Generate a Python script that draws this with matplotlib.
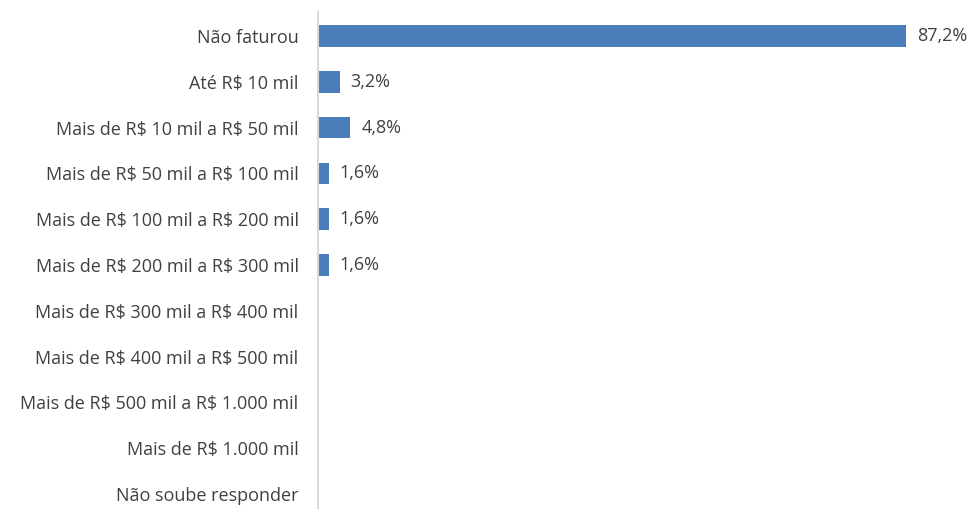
import matplotlib.pyplot as plt

categories = [
    "Não faturou",
    "Até R$ 10 mil",
    "Mais de R$ 10 mil a R$ 50 mil",
    "Mais de R$ 50 mil a R$ 100 mil",
    "Mais de R$ 100 mil a R$ 200 mil",
    "Mais de R$ 200 mil a R$ 300 mil",
    "Mais de R$ 300 mil a R$ 400 mil",
    "Mais de R$ 400 mil a R$ 500 mil",
    "Mais de R$ 500 mil a R$ 1.000 mil",
    "Mais de R$ 1.000 mil",
    "Não soube responder",
]
values = [87.2, 3.2, 4.8, 1.6, 1.6, 1.6, 0, 0, 0, 0, 0]
value_labels = ["87,2%", "3,2%", "4,8%", "1,6%", "1,6%", "1,6%"]

plt.rcParams['font.family'] = ['Open Sans', 'DejaVu Sans']
plt.rcParams['text.parse_math'] = False

W, H = 973, 509
fig = plt.figure(figsize=(W / 100, H / 100), dpi=100)
ax = fig.add_axes([318 / W, 0, 1 - 318 / W, 1 - 12 / H])

y = list(range(len(categories)))
ax.barh(y, values, height=0.47, color="#4a7ebb")
for i, lab in enumerate(value_labels):
    ax.text(values[i] + 1.6, i, lab, va="center", ha="left", fontsize=13, color="#404040")

ax.set_ylim(10.33, -0.524)
ax.set_xlim(0, 97.1)
ax.set_yticks(y)
ax.set_yticklabels(categories, fontsize=13, color="#404040")
ax.tick_params(axis="y", length=0, pad=14)
ax.set_xticks([])
for s in ["top", "right", "bottom"]:
    ax.spines[s].set_visible(False)
ax.spines["left"].set_color("#d9d9d9")
ax.spines["left"].set_linewidth(1.5)

fig.savefig("out.png", dpi=100)
